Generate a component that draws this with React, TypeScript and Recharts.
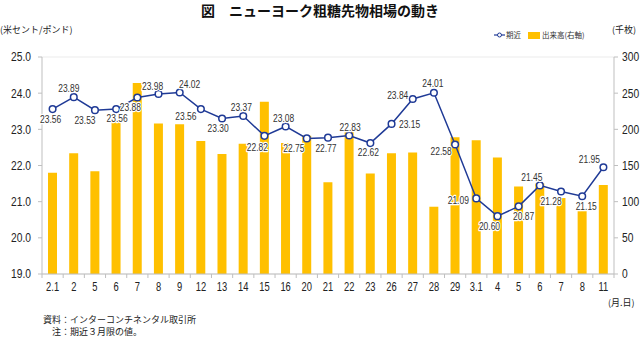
import React from "react";
import {
  ComposedChart,
  Bar,
  Line,
  XAxis,
  YAxis,
  CartesianGrid,
  Legend,
  LabelList,
} from "recharts";

const categories = ["2.1","2","5","6","7","8","9","12","13","14","15","16","20","21","22","23","26","27","28","29","3.1","4","5","6","7","8","11"];
const priceValues = [23.56,23.89,23.53,23.56,23.88,23.98,24.02,23.56,23.30,23.37,22.82,23.08,22.75,22.77,22.83,22.62,23.15,23.84,24.01,22.58,21.09,20.60,20.87,21.45,21.28,21.15,21.95];
const volumeValues = [140,167,142,210,264,208,207,184,166,180,238,181,191,127,197,139,167,168,93,189,185,161,121,125,105,90,123];
const leftTicks = [19, 20, 21, 22, 23, 24, 25];
const rightTicks = [0, 50, 100, 150, 200, 250, 300];
// offset [dx, dy] of each price label's centre from its point (style only)
const labelOffsets: [number, number][] = [
  [-2, 10], [-5, -9], [-10, 10], [1, 9], [-7, 10], [-6, -8], [10, -8], [-15, 7],
  [-4, 10], [-2, -9], [-7, 11], [-2, -8], [-13, 10], [-2, 10], [1, -8], [-2, 9],
  [18, 0], [-15, -4], [-1, -10], [-14, 7], [-18, 2], [-8, 10], [5, 10], [-8, -8],
  [-10, 10], [4, 10], [-14, -8],
];

const data = categories.map((c, i) => ({
  cat: c,
  price: priceValues[i],
  volume: volumeValues[i],
}));

const NUM_FONT = "'Liberation Sans', Arial, sans-serif";
const JP_FONT = "'Noto Sans CJK JP', sans-serif";
const LINE_COLOR = "#1F3A96";
const BAR_COLOR = "#FFC000";

const NarrowText = (props: any) => {
  const { x, y, anchor, size, children, halo, baseline, squeeze } = props;
  const s = squeeze || 0.8;
  return (
    <text
      transform={`translate(${x},${y}) scale(${s},1)`}
      x={0}
      y={0}
      textAnchor={anchor || "middle"}
      dominantBaseline={baseline || "auto"}
      fontFamily={NUM_FONT}
      fontSize={size}
      fill={halo ? "#333" : "#222"}
      stroke={halo ? "#fff" : "none"}
      strokeWidth={halo ? 2.5 : 0}
      paintOrder="stroke"
      strokeLinejoin="round"
    >
      {children}
    </text>
  );
};

const XTick = (props: any) => {
  const { x, y, payload, index, visibleTicksCount } = props;
  const off = payload.offset || 0;
  const isLast = index === visibleTicksCount - 1;
  return (
    <g>
      <line x1={x - off} x2={x - off} y1={y} y2={y + 4} stroke="#bfbfbf" />
      {isLast && <line x1={x + off} x2={x + off} y1={y} y2={y + 4} stroke="#bfbfbf" />}
      <NarrowText x={x} y={y + 13} size={12} baseline="central" squeeze={0.78}>{payload.value}</NarrowText>
    </g>
  );
};

const LeftTick = (props: any) => {
  const { x, y, payload } = props;
  return (
    <NarrowText x={x} y={y} anchor="end" size={12.5} baseline="central" squeeze={0.82}>
      {Number(payload.value).toFixed(1)}
    </NarrowText>
  );
};

const RightTick = (props: any) => {
  const { x, y, payload } = props;
  return (
    <NarrowText x={x} y={y} anchor="start" size={12.5} baseline="central" squeeze={0.82}>
      {payload.value}
    </NarrowText>
  );
};

const PriceLabel = (props: any) => {
  const { x, y, value, index } = props;
  const [dx, dy] = labelOffsets[index] || [0, -8];
  return (
    <NarrowText x={x + dx} y={y + dy} anchor="middle" size={11} baseline="central" squeeze={0.77} halo>
      {Number(value).toFixed(2)}
    </NarrowText>
  );
};

const LegendContent = () => (
  <div style={{ display: "flex", alignItems: "center", fontFamily: JP_FONT, fontSize: 7.5, lineHeight: "10px", color: "#333", whiteSpace: "nowrap" }}>
    <svg width={11} height={8} style={{ marginRight: 1, flex: "none" }}>
      <line x1={0} x2={11} y1={4} y2={4} stroke={LINE_COLOR} strokeWidth={1.2} />
      <circle cx={5.5} cy={4} r={2} fill="#fff" stroke={LINE_COLOR} strokeWidth={1} />
    </svg>
    <span style={{ marginRight: 7 }}>期近</span>
    <span style={{ display: "inline-block", width: 12, height: 7, background: BAR_COLOR, marginRight: 2, flex: "none" }} />
    <span>出来高(右軸)</span>
  </div>
);

const noteStyle: React.CSSProperties = {
  position: "absolute",
  fontFamily: JP_FONT,
  fontSize: 9,
  lineHeight: "11px",
  color: "#222",
  whiteSpace: "nowrap",
};

export default function App() {
  return (
    <div style={{ position: "absolute", left: 0, top: 0, width: 640, height: 337, background: "#fff", overflow: "hidden" }}>
      <div style={{ position: "absolute", left: 0, top: 1, width: 640, textAlign: "center", fontFamily: JP_FONT, fontWeight: 700, fontSize: 14, lineHeight: "18px", color: "#111" }}>
        図　ニューヨーク粗糖先物相場の動き
      </div>
      <div style={{ position: "absolute", left: 0, top: 23, fontFamily: JP_FONT, fontSize: 9, color: "#222" }}>
        (米セント/ポンド)
      </div>
      <div style={{ position: "absolute", left: 612, top: 23, fontFamily: JP_FONT, fontSize: 9, color: "#222" }}>
        (千枚)
      </div>
      <ComposedChart
        width={640}
        height={337}
        data={data}
        margin={{ top: 47, right: 0, bottom: 38, left: 0 }}
        barCategoryGap={0}
      >
        <CartesianGrid horizontal={true} vertical={false} stroke="#ebebeb" />
        <XAxis
          dataKey="cat"
          interval={0}
          height={25}
          tickSize={0}
          tickMargin={0}
          tickLine={false}
          axisLine={{ stroke: "#bfbfbf" }}
          tick={<XTick />}
        />
        <YAxis
          yAxisId="left"
          orientation="left"
          width={42}
          domain={[19, 25]}
          ticks={leftTicks}
          tickSize={4}
          tickMargin={7}
          axisLine={{ stroke: "#bfbfbf" }}
          tickLine={{ stroke: "#bfbfbf" }}
          tick={<LeftTick />}
          allowDataOverflow
        />
        <YAxis
          yAxisId="right"
          orientation="right"
          width={26}
          domain={[0, 300]}
          ticks={rightTicks}
          tickSize={4}
          tickMargin={4}
          axisLine={{ stroke: "#bfbfbf" }}
          tickLine={{ stroke: "#bfbfbf" }}
          tick={<RightTick />}
        />
        <Legend
          verticalAlign="top"
          align="right"
          content={<LegendContent />}
          wrapperStyle={{ position: "absolute", top: 30, left: 494, width: 82 }}
        />
        <Bar yAxisId="right" dataKey="volume" name="出来高(右軸)" fill={BAR_COLOR} barSize={9} isAnimationActive={false} />
        <Line
          yAxisId="left"
          type="linear"
          dataKey="price"
          name="期近"
          stroke={LINE_COLOR}
          strokeWidth={1.5}
          dot={{ r: 3.3, fill: "#fff", stroke: LINE_COLOR, strokeWidth: 1.5 }}
          isAnimationActive={false}
        >
          <LabelList dataKey="price" content={<PriceLabel />} />
        </Line>
      </ComposedChart>
      <div style={{ ...noteStyle, left: 608, top: 297 }}>(月.日)</div>
      <div style={{ ...noteStyle, left: 43, top: 313.5 }}>資料：インターコンチネンタル取引所</div>
      <div style={{ ...noteStyle, left: 52, top: 325.5 }}>注：期近３月限の値。</div>
    </div>
  );
}
